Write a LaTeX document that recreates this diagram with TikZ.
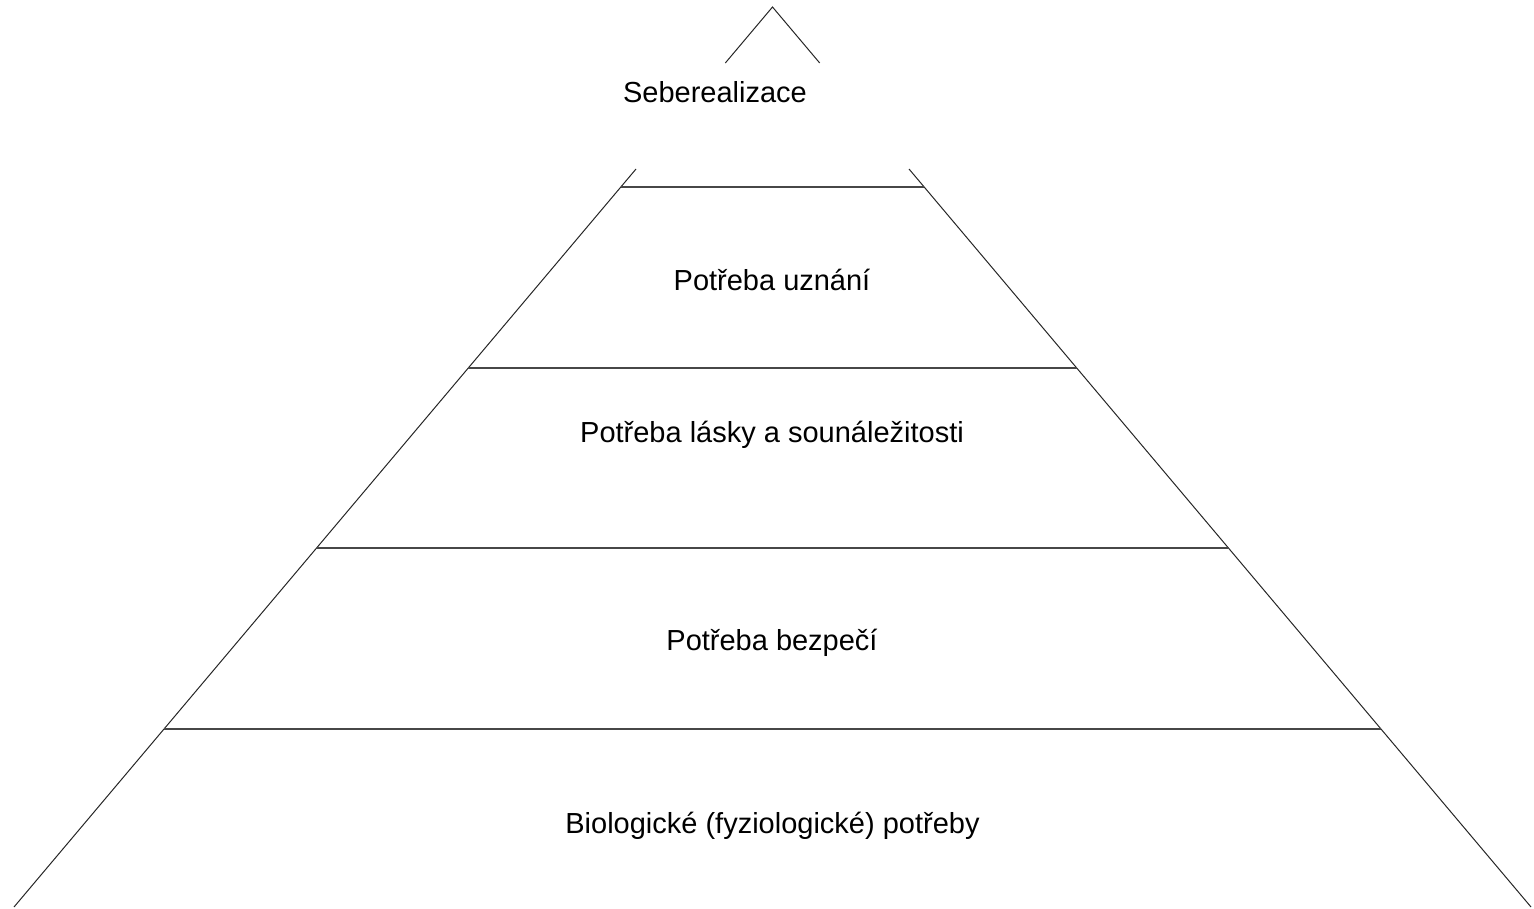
\documentclass[tikz,border=0pt]{standalone}
\usepackage{fontspec}
\setmainfont{Liberation Sans}
\begin{document}
\begin{tikzpicture}[x=1pt,y=-1pt,
  edge/.style={line width=1pt, black!85},
  tier/.style={line width=2pt, black!72},
  lbl/.style={font=\fontsize{29}{34}\selectfont, inner sep=0pt, anchor=base}]
\useasboundingbox (0,0) rectangle (1534,908);
% apex part
\coordinate (apex) at (772.5,7);
\coordinate (tl) at (725.3,63);
\coordinate (tr) at (819.7,63);
\draw[edge] (tl) -- (apex) -- (tr);
% main sides
\coordinate (sl) at (636,169);
\coordinate (bl) at (14,907);
\coordinate (sr) at (909,169);
\coordinate (br) at (1531,907);
\draw[edge] (sl) -- (bl);
\draw[edge] (sr) -- (br);
% tiers
\coordinate (h1l) at (620.8,187); \coordinate (h1r) at (924.2,187);
\coordinate (h2l) at (468.2,368); \coordinate (h2r) at (1076.8,368);
\coordinate (h3l) at (316.5,548); \coordinate (h3r) at (1228.5,548);
\coordinate (h4l) at (164,729);   \coordinate (h4r) at (1381,729);
\draw[tier] (h1l) -- (h1r);
\draw[tier] (h2l) -- (h2r);
\draw[tier] (h3l) -- (h3r);
\draw[tier] (h4l) -- (h4r);
% labels
\node[lbl] (t0) at (715,102) {Seberealizace};
\node[lbl] (t1) at (772,290.5) {Potřeba uznání};
\node[lbl] (t2) at (772,442.5) {Potřeba lásky a sounáležitosti};
\node[lbl] (t3) at (772,650.5) {Potřeba bezpečí};
\node[lbl] (t4) at (772.5,833.5) {Biologické (fyziologické) potřeby};
\end{tikzpicture}
\end{document}
